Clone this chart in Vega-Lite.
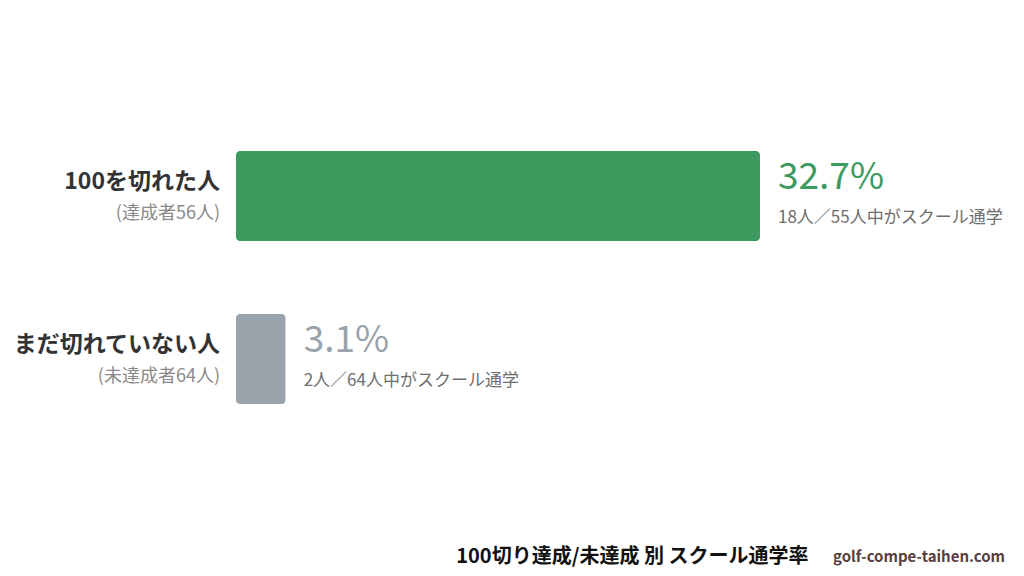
{
  "$schema": "https://vega.github.io/schema/vega-lite/v6.json",
  "width": 1024,
  "height": 576,
  "autosize": {"type": "none"},
  "padding": 0,
  "background": "#ffffff",
  "config": {"view": {"stroke": null}, "font": "Noto Sans CJK JP"},
  "title": {
    "text": "golf-compe-taihen.com",
    "orient": "bottom",
    "anchor": "end",
    "dx": -19,
    "dy": -23,
    "baseline": "middle",
    "fontSize": 15,
    "fontWeight": "bold",
    "color": "#5a3e3e",
    "font": "Noto Sans CJK JP"
  },
  "data": {
    "values": [
      {"group": "100を切れた人", "sub": "(達成者56人)", "rate": 32.7, "label": "32.7%", "detail": "18人／55人中がスクール通学"},
      {"group": "まだ切れていない人", "sub": "(未達成者64人)", "rate": 3.1, "label": "3.1%", "detail": "2人／64人中がスクール通学"}
    ]
  },
  "encoding": {
    "y": {
      "field": "group",
      "type": "nominal",
      "sort": null,
      "scale": {"range": [114.5, 440.5], "paddingInner": 0.448, "paddingOuter": 0.224},
      "axis": null
    }
  },
  "layer": [
    {
      "mark": {"type": "bar", "cornerRadius": 4},
      "encoding": {
        "x": {
          "field": "rate",
          "type": "quantitative",
          "scale": {"domain": [0, 32.7], "range": [236, 760], "nice": false, "zero": true},
          "axis": {
            "orient": "bottom",
            "domain": false,
            "ticks": false,
            "labels": false,
            "grid": false,
            "title": "100切り達成/未達成 別 スクール通学率",
            "titleFont": "Noto Sans CJK JP",
            "titleFontSize": 20,
            "titleFontWeight": "bold",
            "titleColor": "#111111",
            "titleAlign": "right",
            "titleAnchor": null,
            "titleX": 808,
            "titleY": -20,
            "titleBaseline": "middle"
          }
        },
        "color": {
          "field": "group",
          "type": "nominal",
          "scale": {"domain": ["100を切れた人", "まだ切れていない人"], "range": ["#3d9a5e", "#9aa2ab"]},
          "legend": null
        }
      }
    },
    {
      "mark": {"type": "text", "align": "right", "baseline": "middle", "dx": -16, "dy": -14, "fontSize": 23, "fontWeight": "bold", "color": "#333333"},
      "encoding": {
        "x": {"datum": 0, "type": "quantitative"},
        "text": {"field": "group"}
      }
    },
    {
      "mark": {"type": "text", "align": "right", "baseline": "middle", "dx": -16, "dy": 18, "fontSize": 18, "color": "#8a8a8a"},
      "encoding": {
        "x": {"datum": 0, "type": "quantitative"},
        "text": {"field": "sub"}
      }
    },
    {
      "mark": {"type": "text", "align": "left", "baseline": "middle", "dx": 18, "dy": -18, "fontSize": 37},
      "encoding": {
        "x": {"field": "rate", "type": "quantitative"},
        "text": {"field": "label"},
        "color": {"field": "group", "type": "nominal", "legend": null}
      }
    },
    {
      "mark": {"type": "text", "align": "left", "baseline": "middle", "dx": 18, "dy": 22, "fontSize": 17, "color": "#6e6e6e"},
      "encoding": {
        "x": {"field": "rate", "type": "quantitative"},
        "text": {"field": "detail"}
      }
    }
  ]
}
